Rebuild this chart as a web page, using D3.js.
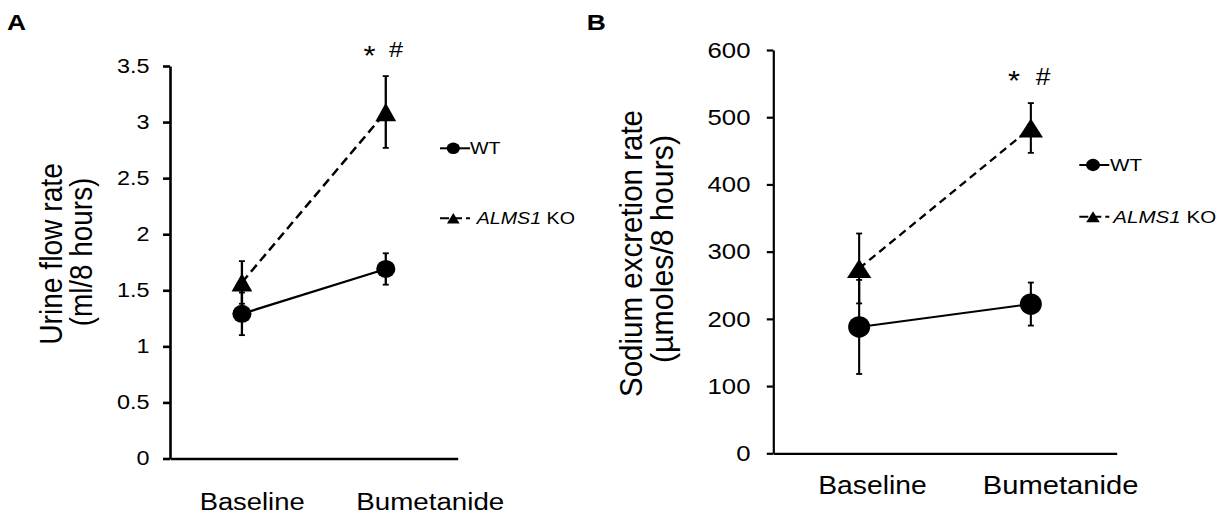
<!DOCTYPE html>
<html><head><meta charset="utf-8">
<script src="https://cdn.jsdelivr.net/npm/d3@7"></script>
<style>html,body{margin:0;padding:0;background:#fff;} svg{display:block;font-family:"Liberation Sans",Arial,sans-serif;}</style>
</head><body><svg id="c" width="1226" height="515"></svg>
<script>
// ---- data ----
const categories = ["Baseline", "Bumetanide"];
const seriesNames = ["WT", "ALMS1 KO"];
const urineWT = [1.29, 1.69];
const urineWTErr = [0.19, 0.14];
const urineKO = [1.57, 3.09];
const urineKOErr = [0.19, 0.32];
const sodiumWT = [188, 222];
const sodiumWTErr = [70, 32];
const sodiumKO = [275, 484];
const sodiumKOErr = [52, 37];
const urineTicks = [0, 0.5, 1, 1.5, 2, 2.5, 3, 3.5];
const sodiumTicks = [0, 100, 200, 300, 400, 500, 600];
const urineTitle = ["Urine flow rate", "(ml/8 hours)"];
const sodiumTitle = ["Sodium excretion rate", "(\u00b5moles/8 hours)"];
const sigMarks = ["*", "#"];

// ---- layout ----
const panels = [
  {
    letter: "A", letterX: 7, letterY: 29.5,
    x0: 170, x1: 457.7, yTop: 66, yBot: 458.5, max: 3.5, ticks: urineTicks,
    wt: urineWT, wtErr: urineWTErr, ko: urineKO, koErr: urineKOErr,
    axisW: 2.6, tickLen: 7,
    tickFont: 19.5, tickSx: 1.2, tickEndX: 149.5,
    xlab: { font: 23.5, base: 510, off: [10.2, 44.5], len: [105, 148] },
    title: { lines: urineTitle, bx: [61.7, 91.5], cy: [254, 252], len: [181.7, 148.7], font: 28, sx: 1.1 },
    mk: { rx: 9.6, ry: 9, tw: 20.7, th: 18.3 }, lineW: 2.3, dash: "9,5", cap: 3,
    leg: { lx0: 440, lx1: 470, mx: 453.3, ys: [148.3, 218.3], tx: [470, 476.7], font: 16.8, sx: 1.17, cr: 6.3, tw: 12.7, th: 10.5 },
    sig: { sx: 369.5, sy: 65, sf: 28, hx: 396, hy: 57, hf: 22 }
  },
  {
    letter: "B", letterX: 586.7, letterY: 29.5,
    x0: 773.3, x1: 1116.7, yTop: 50, yBot: 453.3, max: 600, ticks: sodiumTicks,
    wt: sodiumWT, wtErr: sodiumWTErr, ko: sodiumKO, koErr: sodiumKOErr,
    axisW: 2.2, tickLen: 6.5,
    tickFont: 22, tickSx: 1.17, tickEndX: 750.5,
    xlab: { font: 26, base: 494, off: [13.3, 29.7], len: [108.4, 155.6] },
    title: { lines: sodiumTitle, bx: [641.7, 673], cy: [253.5, 249], len: [287, 228], font: 29.5, sx: 1.08 },
    mk: { rx: 11, ry: 10.7, tw: 24.3, th: 19 }, lineW: 2.1, dash: "8,5", cap: 3,
    leg: { lx0: 1079.3, lx1: 1109.3, mx: 1093, ys: [165, 216.7], tx: [1110, 1113.3], font: 17.3, sx: 1.19, cr: 6.7, tw: 13.5, th: 11 },
    sig: { sx: 1014, sy: 90, sf: 28, hx: 1043, hy: 85, hf: 23 }
  }
];

const svg = d3.select("#c");
svg.append("rect").attr("width", 1226).attr("height", 515).attr("fill", "#fff");

function txt(g, o) {
  const t = g.append("text")
    .attr("transform", `translate(${o.x},${o.y}) scale(${o.sx || 1},1)` + (o.rot ? " rotate(-90)" : ""))
    .attr("font-size", o.size)
    .attr("text-anchor", o.anchor || "start")
    .attr("font-weight", o.weight || "normal")
    .attr("fill", "#000");
  if (o.dy) t.attr("dy", o.dy);
  if (o.len) t.attr("textLength", o.len).attr("lengthAdjust", "spacingAndGlyphs");
  if (o.text !== undefined) t.text(o.text);
  return t;
}

function triPath(cx, cy, w, h) {
  return `M${cx - w / 2},${cy + h / 2}L${cx + w / 2},${cy + h / 2}L${cx},${cy - h / 2}Z`;
}

panels.forEach(p => {
  const g = svg.append("g");
  const x = d3.scalePoint().domain(categories).range([p.x0, p.x1]).padding(0.5);
  const y = d3.scaleLinear().domain([0, p.max]).range([p.yBot, p.yTop]);

  // panel letter
  txt(g, { x: p.letterX, y: p.letterY, text: p.letter, size: 22, sx: 1.2, weight: "bold" });

  // y axis
  const ya = g.append("g").attr("transform", `translate(${p.x0},0)`)
    .call(d3.axisLeft(y).tickValues(p.ticks).tickSize(p.tickLen).tickSizeOuter(0).tickFormat(""));
  ya.selectAll("path,line").attr("stroke", "#000").attr("stroke-width", p.axisW);
  ya.selectAll("text").remove();
  // x axis
  const xa = g.append("g").attr("transform", `translate(0,${y(0)})`)
    .call(d3.axisBottom(x).tickValues([]).tickSizeOuter(0));
  xa.selectAll("path").attr("stroke", "#000").attr("stroke-width", p.axisW);

  // tick labels
  p.ticks.forEach(v => {
    txt(g, { x: p.tickEndX, y: y(v), text: String(v), size: p.tickFont, sx: p.tickSx, anchor: "end", dy: "0.35em" });
  });

  // category labels
  categories.forEach((c, i) => {
    txt(g, { x: x(c) + p.xlab.off[i], y: p.xlab.base, text: c, size: p.xlab.font, anchor: "middle", len: p.xlab.len[i] });
  });

  // y title
  p.title.lines.forEach((l, i) => {
    txt(g, { x: p.title.bx[i], y: p.title.cy[i], text: l, size: p.title.font, sx: p.title.sx, rot: true, anchor: "middle", len: p.title.len[i] });
  });

  // lines
  const line = d3.line().x((d, i) => x(categories[i])).y(d => y(d));
  g.append("path").datum(p.ko).attr("d", line).attr("fill", "none").attr("stroke", "#000")
    .attr("stroke-width", p.lineW + 0.2).attr("stroke-dasharray", p.dash);
  g.append("path").datum(p.wt).attr("d", line).attr("fill", "none").attr("stroke", "#000")
    .attr("stroke-width", p.lineW);

  // error bars
  function errs(vals, es) {
    vals.forEach((v, i) => {
      const cx = x(categories[i]);
      const yt = y(v + es[i]), yb = y(v - es[i]);
      g.append("line").attr("x1", cx).attr("x2", cx).attr("y1", yt).attr("y2", yb).attr("stroke", "#000").attr("stroke-width", p.lineW);
      [yt, yb].forEach(yy => g.append("line").attr("x1", cx - p.cap).attr("x2", cx + p.cap).attr("y1", yy).attr("y2", yy).attr("stroke", "#000").attr("stroke-width", 1.8));
    });
  }
  errs(p.wt, p.wtErr);
  errs(p.ko, p.koErr);

  // markers
  p.ko.forEach((v, i) => {
    g.append("path").attr("d", triPath(x(categories[i]), y(v), p.mk.tw, p.mk.th)).attr("fill", "#000");
  });
  p.wt.forEach((v, i) => {
    g.append("ellipse").attr("cx", x(categories[i])).attr("cy", y(v)).attr("rx", p.mk.rx).attr("ry", p.mk.ry).attr("fill", "#000");
  });

  // significance
  txt(g, { x: p.sig.sx, y: p.sig.sy, text: sigMarks[0], size: p.sig.sf, sx: 1.1, anchor: "middle" });
  txt(g, { x: p.sig.hx, y: p.sig.hy, text: sigMarks[1], size: p.sig.hf, sx: 1.15, anchor: "middle" });

  // legend
  const L = p.leg;
  g.append("line").attr("x1", L.lx0).attr("x2", L.lx1).attr("y1", L.ys[0]).attr("y2", L.ys[0]).attr("stroke", "#000").attr("stroke-width", 2);
  g.append("ellipse").attr("cx", L.mx).attr("cy", L.ys[0]).attr("rx", L.cr * 1.05).attr("ry", L.cr * 0.92).attr("fill", "#000");
  txt(g, { x: L.tx[0], y: L.ys[0], text: seriesNames[0], size: L.font, sx: L.sx, dy: "0.36em" });

  g.append("line").attr("x1", L.lx0).attr("x2", L.lx1).attr("y1", L.ys[1]).attr("y2", L.ys[1]).attr("stroke", "#000").attr("stroke-width", 2).attr("stroke-dasharray", "9,4");
  g.append("path").attr("d", triPath(L.mx, L.ys[1], L.tw, L.th)).attr("fill", "#000");
  const kt = txt(g, { x: L.tx[1], y: L.ys[1], size: L.font, sx: L.sx, dy: "0.36em" });
  const parts = seriesNames[1].split(" ");
  kt.append("tspan").attr("font-style", "italic").text(parts[0]);
  kt.append("tspan").text(" " + parts[1]);
});
</script></body></html>
